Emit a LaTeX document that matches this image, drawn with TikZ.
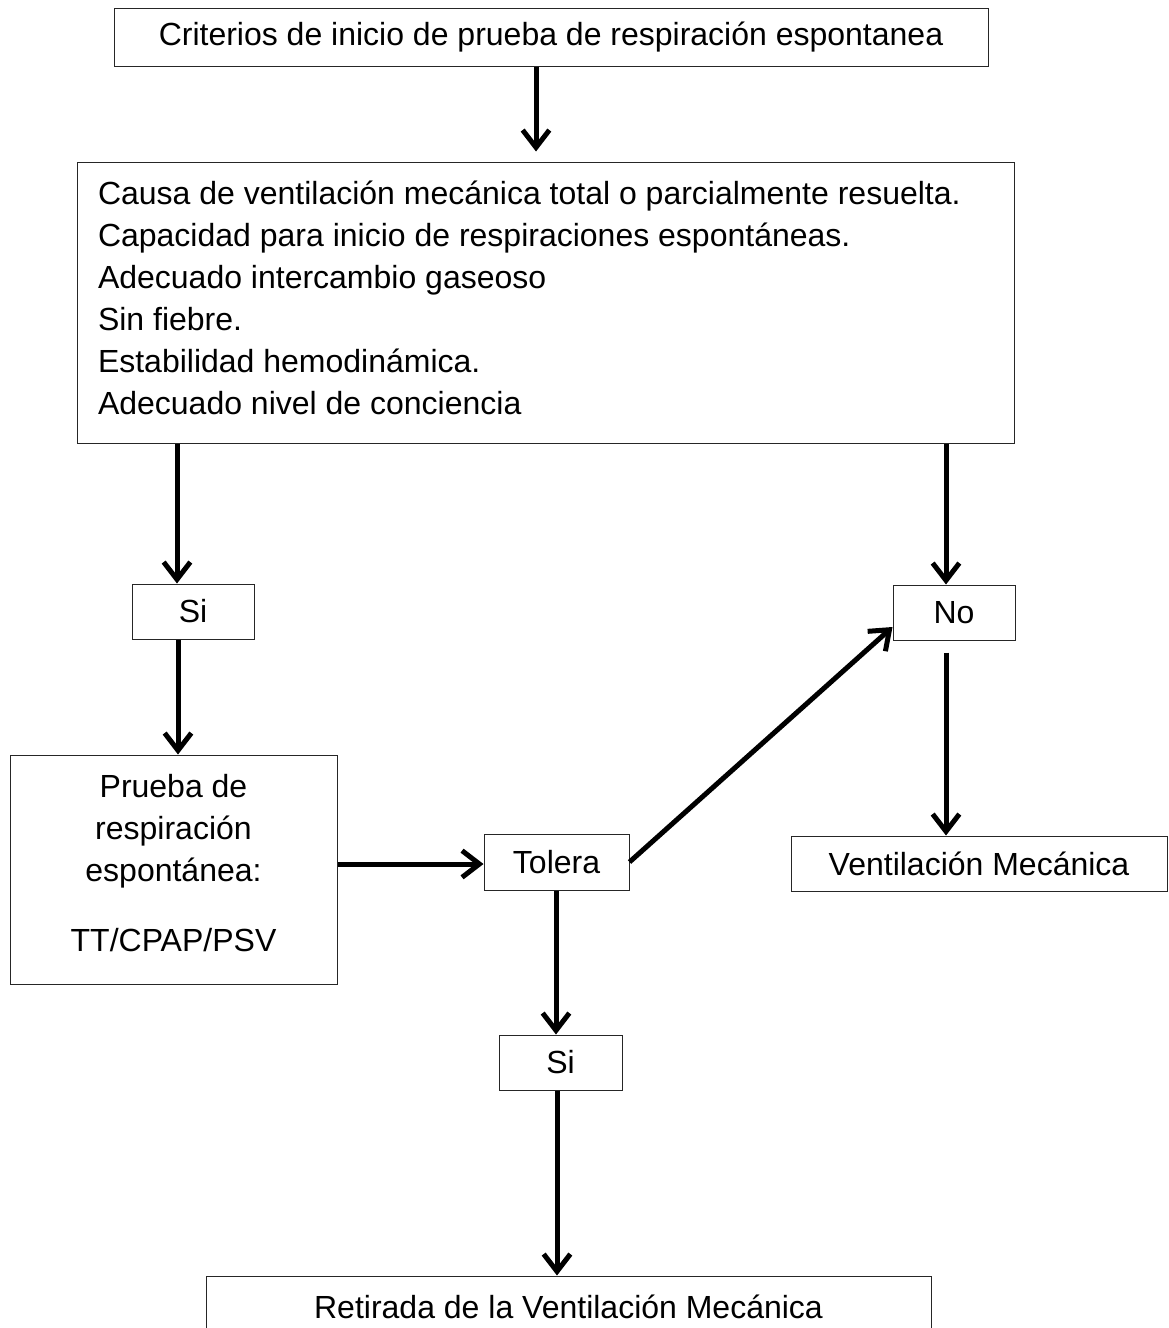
\documentclass[tikz,border=0pt]{standalone}
\usepackage{fontspec}
\setmainfont{Liberation Sans}
\usetikzlibrary{arrows.meta}

\begin{document}
\begin{tikzpicture}[x=0.75pt,y=-0.75pt,
		caja/.style={draw=black!85,line width=0.75pt,inner sep=0pt,align=flush center,
			font=\fontsize{24pt}{31.5pt}\selectfont},
		flecha/.style={line width=3.75pt,
			-{Straight Barb[length=13pt,width=20pt,line width=3.75pt]}}]
		\useasboundingbox (0,0) rectangle (1169,1328);
		\clip (0,0) rectangle (1169,1328);
		\begin{scope}
			\node[caja,minimum width=655.5pt,minimum height=43.5pt] (crit) at (551,37) {Criterios de inicio de prueba de respiración espontanea};
			\node[caja,minimum width=702.75pt,minimum height=210.75pt,align=flush left,
				text width=671.25pt,inner xsep=15.75pt] (cond) at (545.5,302.5) {Causa de ventilación mecánica total o parcialmente resuelta.\\
				Capacidad para inicio de respiraciones espontáneas.\\
				Adecuado intercambio gaseoso\\
				Sin fiebre.\\
				Estabilidad hemodinámica.\\
				Adecuado nivel de conciencia\rule[-7.5pt]{0pt}{0pt}};
		
			\node[caja,minimum width=91.5pt,minimum height=41.25pt] (si1) at (193,611.5) {Si};
			\node[caja,minimum width=91.5pt,minimum height=41.25pt] (no) at (954,612.5) {No};
			\node[caja,minimum width=245.25pt,minimum height=171.75pt] (prueba) at (173.5,869.5) {Prueba de\\respiración\\espontánea:\\[21pt]TT/CPAP/PSV\rule[-10.5pt]{0pt}{0pt}};
			\node[caja,minimum width=108.75pt,minimum height=42pt] (tolera) at (556.5,862) {Tolera};
			\node[caja,minimum width=282pt,minimum height=41.25pt] (vent) at (979,863.5) {Ventilación Mecánica};
			\node[caja,minimum width=92.25pt,minimum height=41.25pt] (si2) at (560.5,1062.5) {Si};
			\node[caja,minimum width=543.75pt,minimum height=46.5pt] (retiro) at (568.5,1307) {Retirada de la Ventilación Mecánica};
		
			\draw[flecha,shorten >=7.5pt] (crit.south -| 536,0) to (cond.north -| 536,0);
			\draw[flecha] (cond.south -| 177,0) to (si1.north -| 177,0);
			\draw[flecha] (cond.south -| 946,0) to (no.north -| 946,0);
			\draw[flecha] (si1.south -| 178,0) to (prueba.north -| 178,0);
			\draw[flecha] (prueba.east |- 0,864) to (tolera.west |- 0,864);
			\draw[flecha] (tolera.east) to (no.west |- 0,627);
			\draw[flecha,shorten <=9pt] (no.south -| 946,0) to (vent.north -| 946,0);
			\draw[flecha] (tolera.south -| 556,0) to (si2.north -| 556,0);
			\draw[flecha] (si2.south -| 557,0) to (retiro.north -| 557,0);
		\end{scope}
	\end{tikzpicture}
\end{document}
